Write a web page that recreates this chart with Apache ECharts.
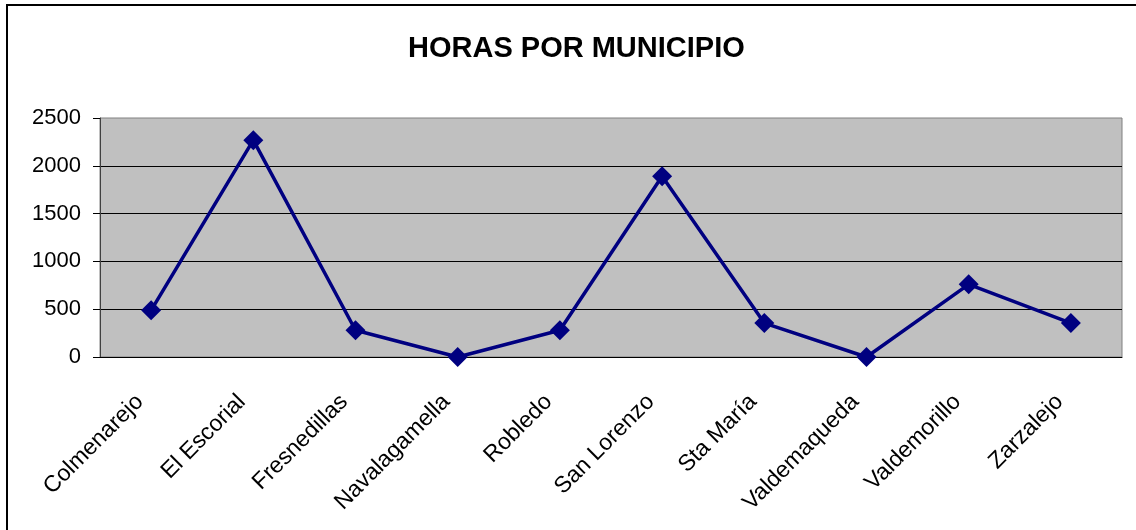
<!DOCTYPE html>
<html>
<head>
<meta charset="utf-8">
<style>
  html, body { margin: 0; padding: 0; background: #fff; }
  #main { width: 1136px; height: 530px; }
</style>
<script src="https://cdn.jsdelivr.net/npm/echarts@6/dist/echarts.min.js"></script>
</head>
<body>
<div id="main"></div>
<script>
// municipios y horas
var municipios = [
  "Colmenarejo", "El Escorial", "Fresnedillas", "Navalagamella", "Robledo",
  "San Lorenzo", "Sta María", "Valdemaqueda", "Valdemorillo", "Zarzalejo"
];
var horas = [488, 2268, 280, 0, 280, 1890, 355, 0, 760, 355];

var chart = echarts.init(document.getElementById("main"));
var option = {
  animation: false,
  textStyle: { fontFamily: "Liberation Sans, Arial, sans-serif" },
  title: {
    text: "HORAS POR MUNICIPIO",
    left: 403,
    top: 29,
    textStyle: { fontSize: 29, fontWeight: "bold", color: "#000" }
  },
  graphic: [{
    type: "rect",
    shape: { x: 7, y: 5, width: 1200, height: 600 },
    style: { fill: "none", stroke: "#000", lineWidth: 2 },
    silent: true
  }],
  grid: {
    left: 100,
    right: 14,
    top: 118,
    bottom: 173,
    show: true,
    backgroundColor: "#C0C0C0",
    borderColor: "#808080",
    borderWidth: 1
  },
  xAxis: {
    type: "category",
    data: municipios,
    boundaryGap: true,
    axisLine: { lineStyle: { color: "#000", width: 1 } },
    axisTick: { length: 7, lineStyle: { color: "#000" } },
    axisLabel: {
      rotate: 45,
      interval: 0,
      margin: 30,
      padding: [0, 16, 0, 0],
      fontSize: 23,
      color: "#000"
    }
  },
  yAxis: {
    type: "value",
    min: 0,
    max: 2500,
    interval: 500,
    axisLine: { show: true, lineStyle: { color: "#404040", width: 1 } },
    axisTick: { show: true, length: 7, lineStyle: { color: "#000" } },
    axisLabel: {
      margin: 19,
      fontSize: 22,
      color: "#000",
      formatter: function (v) { return String(v); }
    },
    splitLine: { show: true, showMaxLine: false, lineStyle: { color: "#000", width: 1 } }
  },
  series: [{
    type: "line",
    data: horas,
    symbol: "diamond",
    symbolSize: 20,
    itemStyle: { color: "#000080" },
    lineStyle: { color: "#000080", width: 3.5 }
  }]
};
chart.setOption(option);
</script>
</body>
</html>
